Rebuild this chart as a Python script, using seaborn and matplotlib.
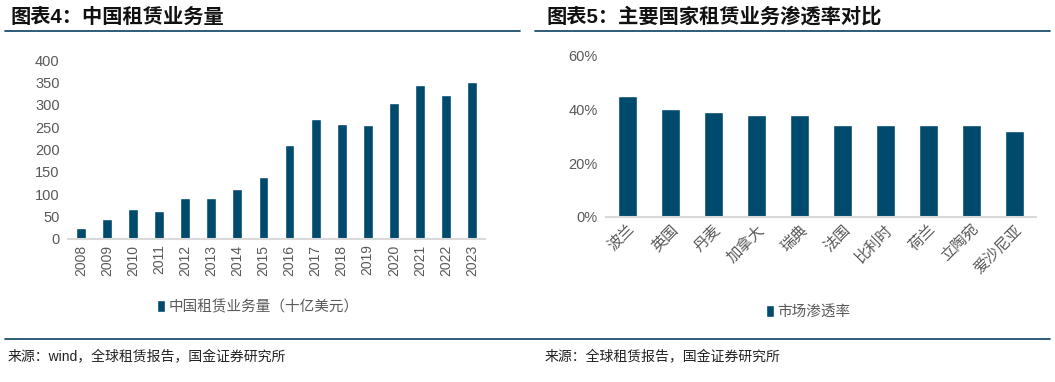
import numpy as np
import pandas as pd
import matplotlib
matplotlib.use('Agg')
import matplotlib.pyplot as plt
from matplotlib.lines import Line2D
from matplotlib.ticker import PercentFormatter, FixedLocator
import seaborn as sns

# 图表4 数据
years = ['2008', '2009', '2010', '2011', '2012', '2013', '2014', '2015',
         '2016', '2017', '2018', '2019', '2020', '2021', '2022', '2023']
lease_volume = [24, 44, 66, 63, 91, 92, 111, 139, 209, 268, 256, 254, 303, 344, 321, 351]

# 图表5 数据
countries = ['波兰', '英国', '丹麦', '加拿大', '瑞典', '法国', '比利时', '荷兰', '立陶宛', '爱沙尼亚']
penetration = [45, 40, 39, 38, 38, 34, 34, 34, 34, 32]

bar_color = '#004a6e'
line_color = '#1f4e6e'
text_gray = '#595959'

sns.set_style('white')
plt.rcParams['font.family'] = ['Liberation Sans', 'Noto Sans CJK SC', 'DejaVu Sans']

fig = plt.figure(figsize=(10.55, 3.82), dpi=100)

ax1 = fig.add_axes([68 / 1055, 1 - 239 / 382, (485 - 68) / 1055, (239 - 60) / 382])
ax2 = fig.add_axes([606 / 1055, 1 - 216.7 / 382, (1036 - 606) / 1055, (216.7 - 55.7) / 382])

df1 = pd.DataFrame({'year': years, 'value': lease_volume})
sns.barplot(data=df1, x='year', y='value', color=bar_color, width=0.38,
            saturation=1, ax=ax1, label='中国租赁业务量（十亿美元）')
ax1.set_ylim(0, 400)
ax1.set_yticks(range(0, 401, 50))
ax1.set_xlim(-0.5, len(years) - 0.5)
ax1.tick_params(axis='x', rotation=90)

df2 = pd.DataFrame({'country': countries, 'rate': penetration})
sns.barplot(data=df2, x='country', y='rate', color=bar_color, width=0.44,
            saturation=1, ax=ax2, label='市场渗透率')
ax2.set_ylim(0, 60)
ax2.set_yticks([0, 20, 40, 60])
ax2.yaxis.set_major_formatter(PercentFormatter(decimals=0))
ax2.set_xlim(-0.5, len(countries) - 0.5)

for ax, n in [(ax1, len(years)), (ax2, len(countries))]:
    ax.set_xlabel('')
    ax.set_ylabel('')
    for s in ['top', 'right', 'left']:
        ax.spines[s].set_visible(False)
    ax.spines['bottom'].set_color('#d9d9d9')
    ax.spines['bottom'].set_linewidth(1.5)
    ax.xaxis.set_minor_locator(FixedLocator(np.arange(-0.5, n, 1.0)))
    ax.tick_params(axis='x', which='major', length=0, labelsize=10, labelcolor=text_gray, pad=4)
    ax.tick_params(axis='x', which='minor', length=3, color='#d9d9d9', width=1, direction='out')
    ax.tick_params(axis='y', length=0, labelsize=10.5, labelcolor=text_gray, pad=6)
    ax.grid(False)

for lab in ax2.get_xticklabels():
    lab.set_rotation(45)
    lab.set_ha('right')
    lab.set_rotation_mode('anchor')
    lab.set_fontsize(11)

leg1 = ax1.legend(loc='center', bbox_to_anchor=(0.455, -0.38), frameon=False,
                  handlelength=0.55, handleheight=0.9, handletextpad=0.2, fontsize=10.5)
leg2 = ax2.legend(loc='center', bbox_to_anchor=(0.47, -0.59), frameon=False,
                  handlelength=0.55, handleheight=0.9, handletextpad=0.2, fontsize=10.5)
for leg in [leg1, leg2]:
    for t in leg.get_texts():
        t.set_color(text_gray)

# 标题与分隔线
fig.text(10 / 1055, 1 - 17 / 382, '图表4：中国租赁业务量', fontsize=14.6, fontweight='bold',
         va='center', ha='left', color='#111111')
fig.text(546 / 1055, 1 - 17 / 382, '图表5：主要国家租赁业务渗透率对比', fontsize=14.6, fontweight='bold',
         va='center', ha='left', color='#111111')
fig.add_artist(Line2D([5 / 1055, 520 / 1055], [1 - 31 / 382] * 2, color=line_color, lw=1.3))
fig.add_artist(Line2D([535 / 1055, 1050 / 1055], [1 - 31 / 382] * 2, color=line_color, lw=1.3))
fig.add_artist(Line2D([5 / 1055, 1050 / 1055], [1 - 339 / 382] * 2, color=line_color, lw=1.3))

fig.text(8 / 1055, 1 - 357 / 382, '来源：wind，全球租赁报告，国金证券研究所', fontsize=10,
         va='center', ha='left', color='#222222')
fig.text(545 / 1055, 1 - 357 / 382, '来源：全球租赁报告，国金证券研究所', fontsize=10,
         va='center', ha='left', color='#222222')

fig.savefig('out.png', dpi=100)
